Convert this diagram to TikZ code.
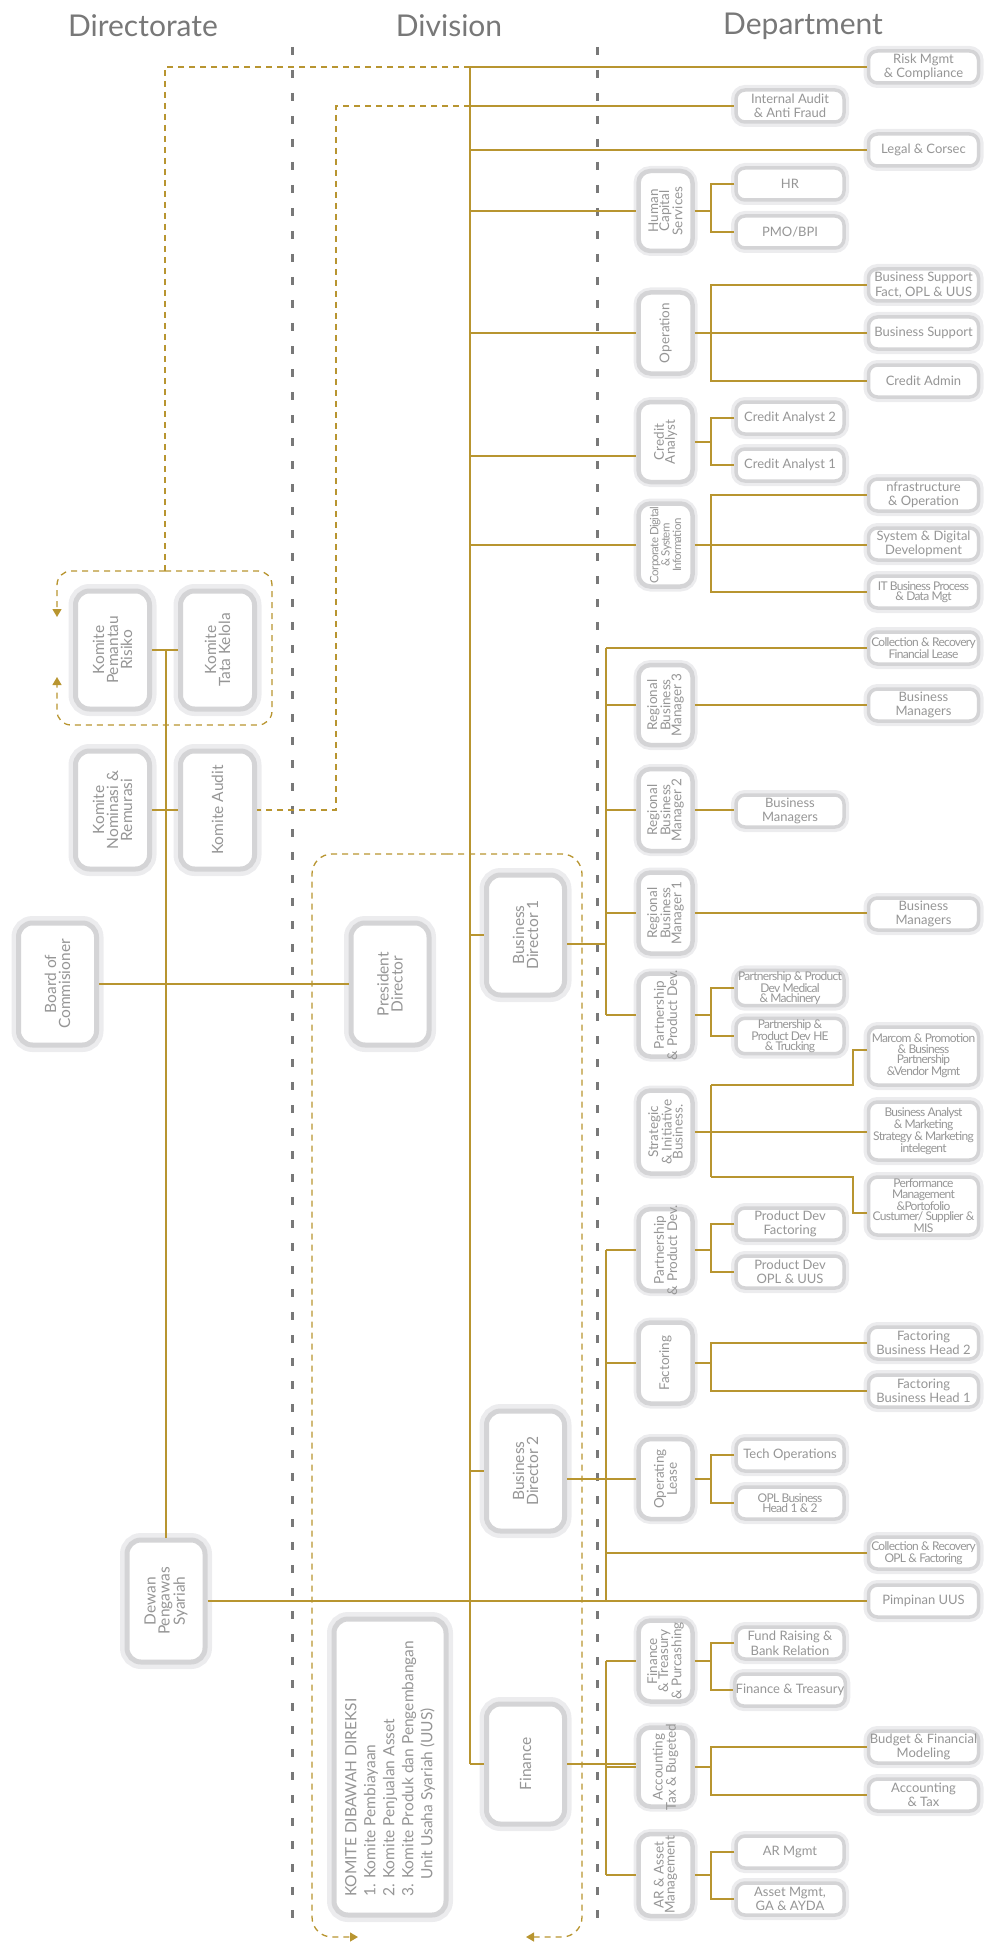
\documentclass[tikz,border=0pt]{standalone}
\usepackage{fontspec}
\setmainfont{Lato}
\newfontfamily\narrowfont[LetterSpace=-6]{Lato}
\usepackage{tikz}
\usetikzlibrary{arrows.meta}
\definecolor{gold}{RGB}{184,149,48}
\definecolor{sep}{RGB}{120,120,120}
\definecolor{ring}{RGB}{212,212,214}
\definecolor{halo}{RGB}{236,236,238}
\definecolor{txt}{RGB}{150,150,150}
\definecolor{hd}{RGB}{120,120,120}

\begin{document}
\begin{tikzpicture}[x=1pt,y=-1pt,
  gline/.style={draw=gold,line width=1.8pt},
  gdash/.style={draw=gold,line width=1.3pt,dash pattern=on 6pt off 5pt},
  sepline/.style={draw=sep,line width=3pt,dash pattern=on 8pt off 15pt},
  gtip/.style={-{Triangle[width=9pt,length=8pt]}},
  orgbox/.style={draw=ring,line width=3.5pt,fill=white,rounded corners=9pt,
    preaction={draw=halo,line width=10pt},inner sep=1pt,align=center,text=txt},
  dept/.style={orgbox,minimum width=110pt,minimum height=32pt,
    font=\fontsize{13}{14.5}\selectfont},
  cond/.style={font=\narrowfont\fontsize{12}{10.5}\selectfont},
  divbox/.style={orgbox,line width=4.5pt,rounded corners=12pt,minimum width=54pt},
  bigbox/.style={orgbox,line width=5pt,rounded corners=14pt,
    preaction={draw=halo,line width=14pt}},
  vlab/.style={rotate=90,align=center,text=txt,inner sep=0pt,
    font=\fontsize{13.5}{11}\selectfont},
  blab/.style={vlab,font=\fontsize{15.5}{14}\selectfont},
  hdtext/.style={text=hd,font=\fontsize{30}{32}\selectfont}]
  \useasboundingbox (0,0) rectangle (990,1942);

  \node[hdtext] (hdDir) at (143,26) {Directorate};
  \node[hdtext] (hdDiv) at (449,26) {Division};
  \node[hdtext] (hdDep) at (803,26) {Department};

  \foreach \x in {292,597}
    \draw[sepline] (\x,47) -- (\x,1920);

  \coordinate (trunkTop) at (470,67);
  \coordinate (trunkB) at (606,0);
  \coordinate (brk) at (711,0);
  \coordinate (elb) at (853,0);
  \coordinate (kgTop) at (165,571);
  \coordinate (iaBend) at (336,0);
  \coordinate (komTop) at (166,650);

  \draw[gdash,gtip,rounded corners=14pt] (kgTop) -- (57,571) -- (57,617);
  \draw[gdash,gtip,rounded corners=14pt] (kgTop) -- (272,571) -- (272,725) -- (57,725) -- (57,677);
  \draw[gdash,gtip,rounded corners=20pt] (447,854) -- (312,854) -- (312,1937) -- (358,1937);
  \draw[gdash,gtip,rounded corners=20pt] (447,854) -- (582,854) -- (582,1937) -- (526,1937);

  \foreach \n/\y/\t in {
    risk/67/{Risk Mgmt\\\& Compliance},legal/150/{Legal \& Corsec},
    bsfact/285/{Business Support\\Fact, OPL \& UUS},bsup/333/{Business Support},
    cradmin/381/{Credit Admin},infra/495/{nfrastructure\\\& Operation},
    sysdig/544/{System \& Digital\\Development},bm3/705/{Business\\Managers},
    bm1/914/{Business\\Managers},fbh2/1343/{Factoring\\Business Head 2},
    fbh1/1391/{Factoring\\Business Head 1},pimp/1601/{Pimpinan UUS},
    budget/1747/{Budget \& Financial\\Modeling},acctax/1795/{Accounting\\\& Tax}}
    \node[dept] (\n) at (923.5,\y) {\t};
  \foreach \n/\y/\h/\t in {
    itbp/592/32/{IT Business Process\\\& Data Mgt},
    colfl/648/32/{Collection \& Recovery\\Financial Lease},
    marcom/1056/58/{Marcom \& Promotion\\\& Business\\Partnership\\\&Vendor Mgmt},
    banalyst/1131/58/{Business Analyst\\\& Marketing\\Strategy \& Marketing\\intelegent},
    perf/1206/58/{Performance\\Management\\\&Portofolio\\Custumer/ Supplier \&\\MIS},
    colopl/1553/32/{Collection \& Recovery\\OPL \& Factoring}}
    \node[dept,cond,minimum height=\h pt] (\n) at (923.5,\y) {\t};

  \foreach \n/\y/\t in {
    intaudit/106/{Internal Audit\\\& Anti Fraud},hr/184/{HR},pmo/232/{PMO/BPI},
    ca2/418/{Credit Analyst 2},ca1/465/{Credit Analyst 1},bm2/811/{Business\\Managers},
    pdfact/1224/{Product Dev\\Factoring},pdopl/1272/{Product Dev\\OPL \& UUS},
    techops/1455/{Tech Operations},fundr/1643/{Fund Raising \&\\Bank Relation},
    fintr/1690/{Finance \& Treasury},armgmt/1852/{AR Mgmt},
    assetm/1899/{Asset Mgmt,\\GA \& AYDA}}
    \node[dept,minimum width=108pt] (\n) at (790,\y) {\t};
  \foreach \n/\y/\t in {
    pmed/988/{Partnership \& Product\\Dev Medical\\\& Machinery},
    phe/1036/{Partnership \&\\Product Dev HE\\\& Trucking},
    oplbh/1503/{OPL Business\\Head 1 \& 2}}
    \node[dept,cond,minimum width=108pt] (\n) at (790,\y) {\t};

  \foreach \n/\y/\h/\t in {
    hcs/211/80/{Human\\Capital\\Services},oper/333/81/{Operation},
    credan/442/80/{Credit\\Analyst},rbm3/705/80/{Regional\\Business\\Manager 3},
    rbm2/810/82/{Regional\\Business\\Manager 2},rbm1/913/81/{Regional\\Business\\Manager 1},
    pp1/1015/83/{Partnership\\\& Product Dev.},sib/1132/83/{Strategic\\\& Initiative\\Business.},
    pp2/1250/82/{Partnership\\\& Product Dev.},fact/1363/81/{Factoring},
    opl/1479/80/{Operating\\Lease},ftp/1661/81/{Finance\\\& Treasury\\\& Purcashing},
    atb/1767/79/{Accounting\\Tax \& Bugeted},arm/1875/82/{AR \& Asset\\Management}}
  {
    \node[divbox,minimum height=\h pt] (\n) at (665.5,\y) {};
    \node[vlab] at (\n) {\t};
  }
  \node[divbox,minimum height=83pt] (cdsi) at (665.5,545) {};
  \node[vlab,font=\narrowfont\fontsize{11.5}{9}\selectfont] at (cdsi) {Corporate Digital\\\& System\\Information};

  \foreach \n/\y/\t in {bd1/935/{Business\\Director 1},bd2/1471/{Business\\Director 2},fin/1764/{Finance}}
  {
    \node[bigbox,minimum width=78pt,minimum height=120pt] (\n) at (525.5,\y) {};
    \node[blab] at (\n) {\t};
  }
  \foreach \n/\x/\y/\t in {
    pemantau/112.5/650/{Komite\\Pemantau\\Risiko},tata/217.5/650/{Komite\\Tata Kelola},
    nominasi/112.5/810/{Komite\\Nominasi \&\\Remurasi},audit/217.5/810/{Komite Audit}}
  {
    \node[bigbox,minimum width=74pt,minimum height=118pt] (\n) at (\x,\y) {};
    \node[blab] at (\n) {\t};
  }
  \foreach \n/\x/\y/\t in {
    board/57.5/984/{Board of\\Commisioner},pd/390/984/{President\\Director},
    dewan/166/1601/{Dewan\\Pengawas\\Syariah}}
  {
    \node[bigbox,minimum width=78pt,minimum height=122pt] (\n) at (\x,\y) {};
    \node[blab] at (\n) {\t};
  }
  \node[bigbox,minimum width=112pt,minimum height=296pt] (komdir) at (390,1767) {};
  \node[blab,font=\fontsize{15.5}{19}\selectfont,align=left,anchor=west] at (390,1897)
    {KOMITE DIBAWAH DIREKSI\\1. Komite Pembiayaan\\2. Komite Penjualan Asset\\
     3. Komite Produk dan Pengembangan\\\hspace*{1.1em}Unit Usaha Syariah (UUS)};

  \draw[gdash] (trunkTop) -| (kgTop);
  \draw[gdash] (intaudit.west -| trunkTop) -| (iaBend |- audit.east) -- (audit.east);

  \draw[gline] (trunkTop) -- (fin.west -| trunkTop);
  \foreach \n in {risk,intaudit,legal,hcs,oper,cdsi,bd1,bd2,fin}
    \draw[gline] (\n.west -| trunkTop) -- (\n.west);
  \coordinate (caIn) at ([yshift=-14pt]credan.west);
  \draw[gline] (caIn -| trunkTop) -- (caIn);

  \draw[gline] (colfl.west -| trunkB) -- (pp1.west -| trunkB);
  \draw[gline] (pp2.west -| trunkB) -- (pimp.west -| trunkB);
  \draw[gline] (ftp.west -| trunkB) -- (arm.west -| trunkB);
  \foreach \n in {colfl,rbm3,rbm2,rbm1,pp1,pp2,fact,opl,colopl,ftp,atb,arm}
    \draw[gline] (\n.west -| trunkB) -- (\n.west);
  \coordinate (bd1Out) at ([yshift=-9pt]bd1.east);
  \draw[gline] (bd1Out) -- (bd1Out -| trunkB);
  \draw[gline] (opl.west -| bd2.east) -- (opl.west);
  \draw[gline] (fin.east) -- (fin.east -| atb.west);

  \foreach \a/\b in {rbm3/bm3,rbm2/bm2,rbm1/bm1,sib/banalyst,oper/bsup,cdsi/sysdig}
    \draw[gline] (\a.east) -- (\a.east -| \b.west);
  \foreach \d/\a/\b in {hcs/hr/pmo,oper/bsfact/cradmin,credan/ca2/ca1,cdsi/infra/itbp,
    pp1/pmed/phe,pp2/pdfact/pdopl,fact/fbh2/fbh1,opl/techops/oplbh,
    ftp/fundr/fintr,atb/budget/acctax,arm/armgmt/assetm}
  {
    \draw[gline] (\d.east) -- (\d.east -| brk);
    \draw[gline] (\a.west) -| (brk |- \b.west) -- (\b.west);
  }
  \coordinate (sibTop) at (711,1085);
  \coordinate (sibBot) at (711,1177);
  \draw[gline] (sibTop) -- (sibBot);
  \draw[gline] (sibTop) -- (sibTop -| elb) |- ([yshift=6pt]marcom.west);
  \draw[gline] (sibBot) -- (sibBot -| elb) |- ([yshift=-7pt]perf.west);

  \draw[gline] (komTop) -- (dewan.north);
  \draw[gline] (pemantau.east) -- (tata.west);
  \draw[gline] (nominasi.east) -- (audit.west);
  \draw[gline] (board.east) -- (pd.west);
  \draw[gline] (dewan.east) -- (dewan.east -| pimp.west);
\end{tikzpicture}
\end{document}
